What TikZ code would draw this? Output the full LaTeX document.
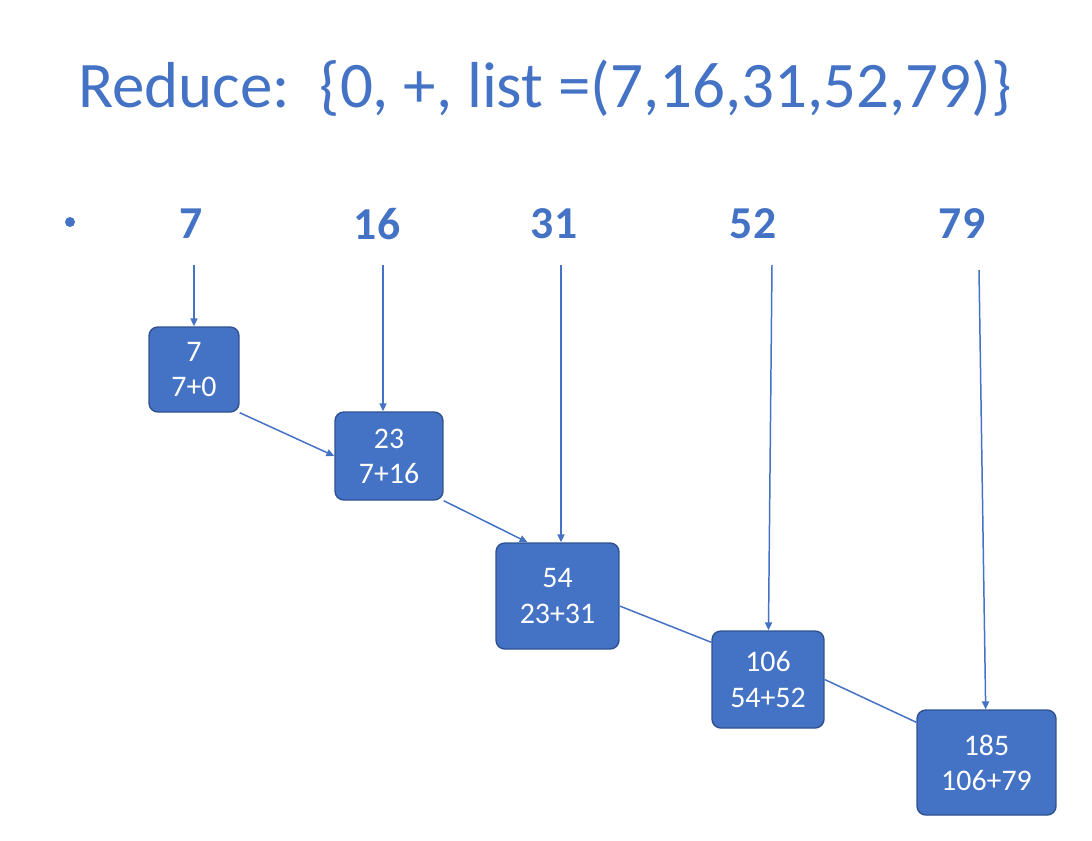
\documentclass[tikz,border=0pt]{standalone}
\usepackage{fontspec}
\setmainfont{Carlito}
\usetikzlibrary{arrows.meta}
\definecolor{boxblue}{HTML}{4472C4}
\definecolor{boxedge}{HTML}{2F528F}
\definecolor{lineblue}{HTML}{4472C4}

\begin{document}
\begin{tikzpicture}[x=0.02cm,y=-0.02cm,>={Triangle[length=4.5pt,width=4pt]}]
            \tikzstyle{box}=[rectangle,rounded corners=5pt,draw=boxedge,line width=0.8pt,fill=boxblue,text=white,font=\fontsize{17}{20}\selectfont,align=center,inner sep=0pt]
            \tikzstyle{num}=[text=boxblue,font=\fontsize{26}{30}\selectfont\bfseries,inner sep=0pt]
            \tikzstyle{link}=[draw=lineblue,line width=0.85pt]
                    \useasboundingbox (0,0) rectangle (1092,840);

                    \node[text=boxblue,font=\fontsize{37}{40}\selectfont,anchor=base,inner sep=0pt] (title) at (545,107) {Reduce:\ \ \{0, +, list =(7,16,31,52,79)\}};

                    \node[circle,fill=boxblue,inner sep=0pt,minimum size=0.2cm] (dot) at (70,222) {};
                    \node[num] (L-1) at (191,224) {7};
                    \node[num] (L-2) at (377,224) {16};
                    \node[num] (L-3) at (554,224) {31};
                    \node[num] (L-4) at (753,224) {52};
                    \node[num] (L-5) at (962,224) {79};

                    \coordinate (T-1) at (194,265);
                    \coordinate (T-2) at (383,265);
                    \coordinate (T-3) at (561,265);
                    \coordinate (T-4) at (772,265);
                    \coordinate (T-5) at (979,270);

                    \node[box,minimum width=1.8cm,minimum height=1.7cm] (B-1) at (194,369.5) {7\\7+0};
                    \node[box,minimum width=2.16cm,minimum height=1.76cm] (B-2) at (389,456) {23\\7+16};
                    \node[box,minimum width=2.46cm,minimum height=2.12cm] (B-3) at (557.5,596) {54\\23+31};
                    \node[box,minimum width=2.24cm,minimum height=1.94cm] (B-4) at (768,679.5) {106\\54+52};
                    \node[box,minimum width=2.78cm,minimum height=2.1cm] (B-5) at (986.5,762.5) {185\\106+79};

                \foreach \i in {1,2,3}
                    \draw[link,->] (T-\i) -- (T-\i |- B-\i.north);
                \foreach \i in {4,5}
                    \draw[link,->] (T-\i) -- (B-\i);

                    \draw[link,->] (B-1.south east) -- (B-2.west);
                    \draw[link,->] (B-2.south east) -- ([xshift=-0.6cm]B-3.north);
                    \draw[link] ([yshift=-0.2cm]B-3.east) -- ([yshift=-0.24cm]B-4.north west);
                    \draw[link] (B-4.east) -- ([yshift=-0.26cm]B-5.north west);
        \end{tikzpicture}
\end{document}
